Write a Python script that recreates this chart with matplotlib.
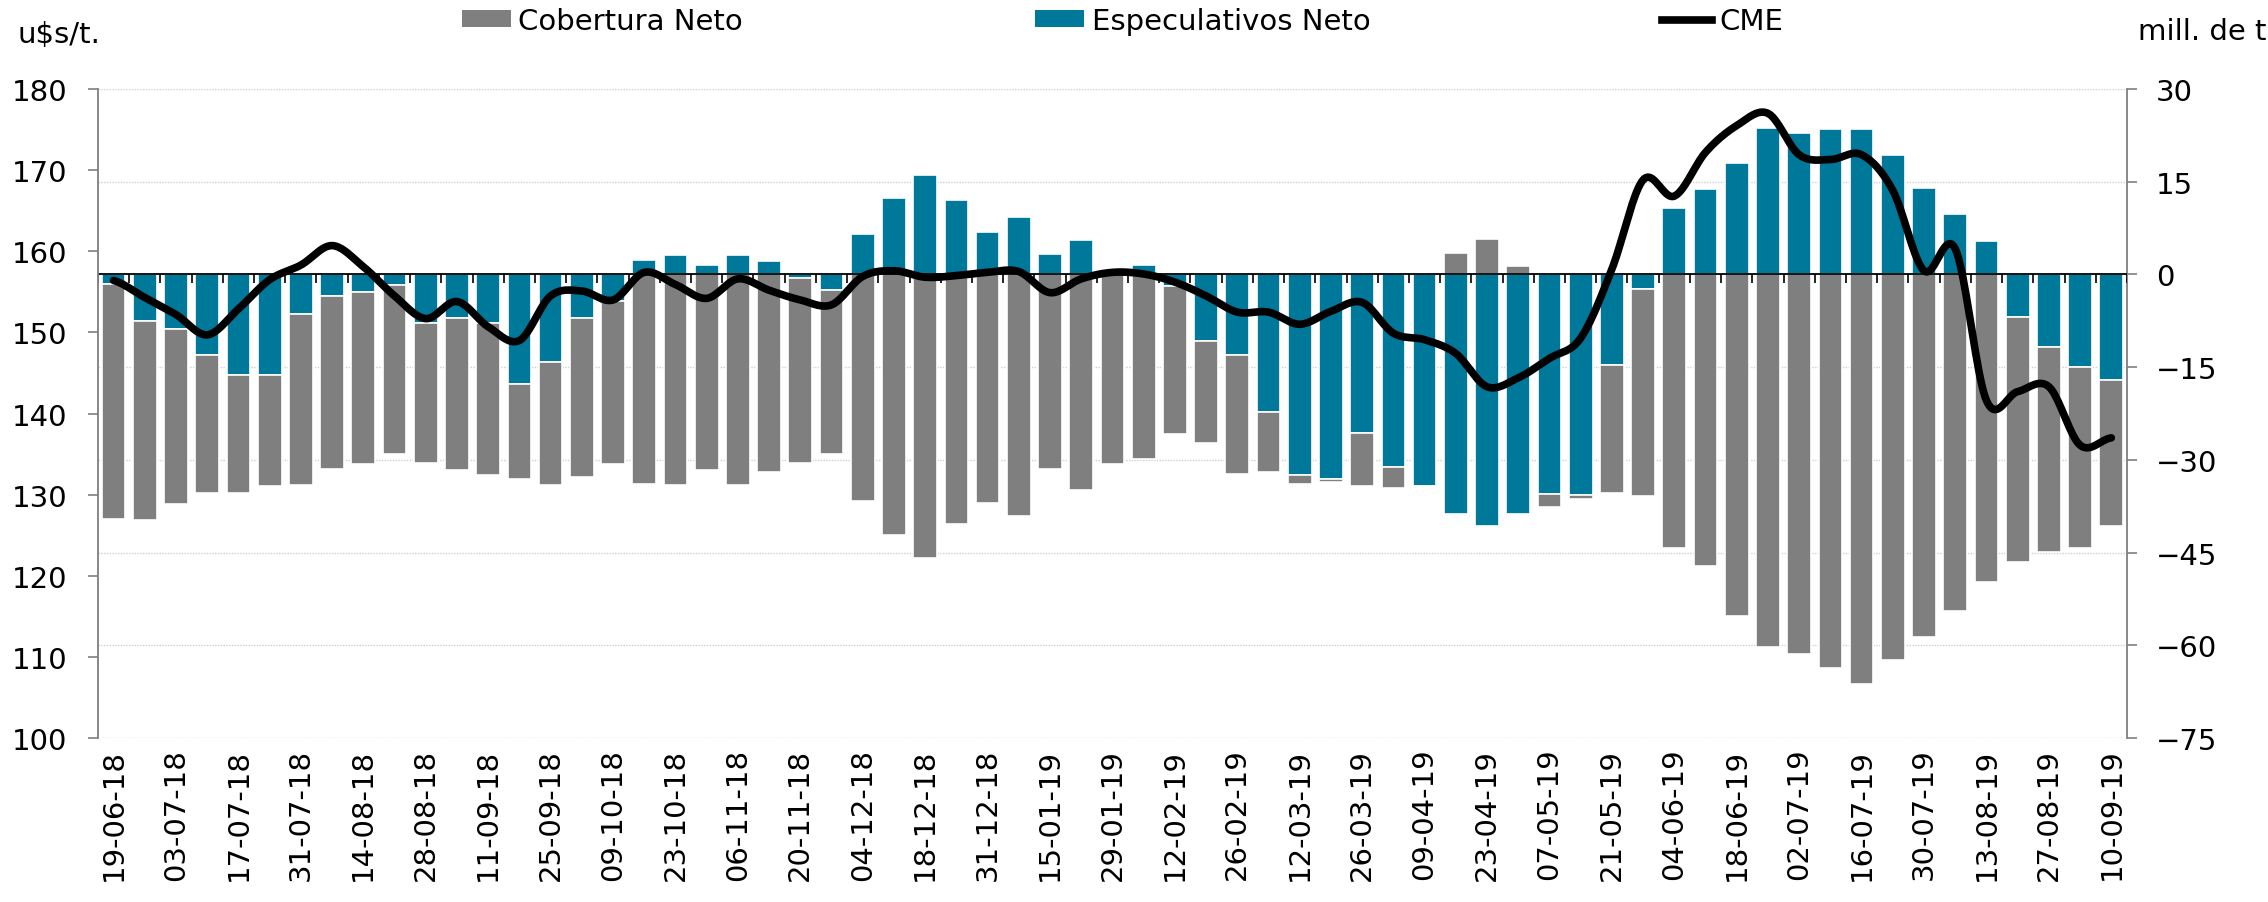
import numpy as np
import matplotlib
matplotlib.use('Agg')
import matplotlib.pyplot as plt
from matplotlib.patches import Patch
from matplotlib.lines import Line2D

# weekly COT dates (tuesdays), only every second one is labelled
fechas = ['19-06-18', '26-06-18', '03-07-18', '10-07-18', '17-07-18', '24-07-18', '31-07-18', '07-08-18',
          '14-08-18', '21-08-18', '28-08-18', '04-09-18', '11-09-18', '18-09-18', '25-09-18', '02-10-18',
          '09-10-18', '16-10-18', '23-10-18', '30-10-18', '06-11-18', '13-11-18', '20-11-18', '27-11-18',
          '04-12-18', '11-12-18', '18-12-18', '24-12-18', '31-12-18', '08-01-19', '15-01-19', '22-01-19',
          '29-01-19', '05-02-19', '12-02-19', '19-02-19', '26-02-19', '05-03-19', '12-03-19', '19-03-19',
          '26-03-19', '02-04-19', '09-04-19', '16-04-19', '23-04-19', '30-04-19', '07-05-19', '14-05-19',
          '21-05-19', '28-05-19', '04-06-19', '11-06-19', '18-06-19', '25-06-19', '02-07-19', '09-07-19',
          '16-07-19', '23-07-19', '30-07-19', '06-08-19', '13-08-19', '20-08-19', '27-08-19', '03-09-19',
          '10-09-19']

# mill. de t
especulativos = [-1.6, -7.5, -8.8, -13.0, -16.2, -16.3, -6.4, -3.5, -2.8, -1.7,
                 -7.8, -7.0, -7.8, -17.7, -14.2, -7.1, -4.3, 2.4, 3.1, 1.6,
                 3.2, 2.2, -0.6, -2.5, 6.6, 12.3, 16.1, 12.1, 6.9, 9.3,
                 3.3, 5.5, 0.2, 1.6, -1.8, -10.8, -13.0, -22.3, -32.5, -33.1,
                 -25.6, -31.2, -34.3, -38.8, -40.7, -38.7, -35.6, -35.7, -14.7, -2.3,
                 10.8, 13.9, 18.1, 23.7, 22.9, 23.6, 23.6, 19.3, 14.0, 9.8,
                 5.4, -6.9, -11.8, -15.0, -17.1]
cobertura = [-37.9, -32.3, -28.3, -22.4, -19.2, -17.9, -27.7, -28.0, -27.9, -27.4,
             -22.7, -24.7, -24.7, -15.4, -19.9, -25.7, -26.4, -33.9, -34.1, -31.7,
             -34.1, -31.9, -29.9, -26.5, -36.6, -42.1, -45.8, -40.4, -36.9, -39.1,
             -31.5, -34.8, -30.7, -29.9, -24.0, -16.4, -19.3, -9.7, -1.4, -0.5,
             -8.7, -3.3, -0.1, 3.4, 5.8, 1.4, -2.1, -0.6, -20.7, -33.5,
             -44.3, -47.1, -55.2, -60.2, -61.4, -63.6, -66.2, -62.3, -58.6, -54.4,
             -49.7, -39.7, -33.1, -29.3, -23.6]
# u$s/t.
cme = [156.4, 154.3, 152.2, 149.7, 152.9, 156.5, 158.3, 160.7, 158.1, 154.5,
       151.7, 153.8, 150.7, 149.0, 154.5, 155.1, 154.0, 157.4, 155.9, 154.2,
       156.6, 155.2, 154.0, 153.4, 156.9, 157.6, 156.8, 157.0, 157.4, 157.5,
       154.9, 156.6, 157.4, 157.2, 156.2, 154.5, 152.5, 152.5, 151.0, 152.6,
       153.7, 149.9, 149.1, 147.4, 143.3, 144.4, 146.8, 149.3, 157.8, 168.8,
       166.8, 172.2, 175.5, 177.0, 171.9, 171.3, 171.9, 167.5, 157.6, 160.3,
       141.6, 142.7, 143.3, 136.1, 137.0]

GRIS = '#7f7f7f'
AZUL = '#00789a'
FS = 21


def catmull_rom(y, n=20):
    # smoothed line like excel's "smooth line"
    y = np.asarray(y, dtype=float)
    yp = np.concatenate([[y[0]], y, [y[-1]]])
    xs, ys = [], []
    t = np.linspace(0, 1, n, endpoint=False)
    for i in range(len(y) - 1):
        p0, p1, p2, p3 = yp[i], yp[i + 1], yp[i + 2], yp[i + 3]
        seg = 0.5 * (2 * p1 + (-p0 + p2) * t + (2 * p0 - 5 * p1 + 4 * p2 - p3) * t ** 2
                     + (-p0 + 3 * p1 - 3 * p2 + p3) * t ** 3)
        xs.append(i + t)
        ys.append(seg)
    xs.append([len(y) - 1])
    ys.append([y[-1]])
    return np.concatenate(xs), np.concatenate(ys)


x = np.arange(len(fechas))
esp = np.array(especulativos)
cob = np.array(cobertura)
# stacked: same sign -> gray goes on top of blue, otherwise starts at zero
base_cob = np.where(np.sign(cob) == np.sign(esp), esp, 0)

fig = plt.figure(figsize=(22.68, 9.03), dpi=100)
ax_bar = fig.add_axes([0.0432, 0.1816, 0.8946, 0.7187])
ax_line = ax_bar.twinx()

ax_bar.bar(x, esp, width=0.76, color=AZUL, edgecolor='white', linewidth=1.2, zorder=3)
ax_bar.bar(x, cob, bottom=base_cob, width=0.76, color=GRIS, edgecolor='white', linewidth=1.2, zorder=3)
ax_bar.axhline(0, color='black', lw=1.3, zorder=4)
ax_bar.vlines(np.arange(len(fechas) + 1) - 0.5, -1.4, 0, color='black', lw=1.2, zorder=4)

ax_bar.set_ylim(-75, 30)
ax_bar.set_yticks(np.arange(-75, 31, 15))
ax_bar.set_xlim(-0.5, len(fechas) - 0.5)
ax_bar.yaxis.grid(True, linestyle=(0, (1, 1)), color='#cfcfcf', lw=1)
ax_bar.set_axisbelow(True)

xs, ys = catmull_rom(cme)
ax_line.plot(xs, ys, color='black', lw=5.5, solid_capstyle='round', zorder=5)
ax_line.set_ylim(100, 180)
ax_line.set_yticks(np.arange(100, 181, 10))

# sides: bars -> right axis, price -> left axis
ax_bar.yaxis.tick_right()
ax_line.yaxis.tick_left()

for a in (ax_bar, ax_line):
    for s in ('top', 'bottom'):
        a.spines[s].set_visible(False)
ax_bar.spines['left'].set_visible(False)
ax_line.spines['right'].set_visible(False)
ax_bar.spines['right'].set_color(GRIS)
ax_line.spines['left'].set_color(GRIS)
ax_bar.spines['right'].set_linewidth(1.3)
ax_line.spines['left'].set_linewidth(1.3)

ax_bar.tick_params(axis='y', right=True, left=False, labelright=True, labelleft=False,
                   length=7, width=1.2, color=GRIS, labelsize=FS, pad=14)
ax_line.tick_params(axis='y', left=True, right=False, labelleft=True, labelright=False,
                    length=7, width=1.2, color=GRIS, labelsize=FS, pad=15)

ax_bar.set_xticks(x[::2])
ax_bar.set_xticklabels(fechas[::2], rotation=90, fontsize=FS)
ax_bar.tick_params(axis='x', length=0, pad=7)

fig.text(17 / 2268, 0.961, r'u\$s/t.', fontsize=FS, ha='left', va='center')
fig.text(0.9995, 0.9646, 'mill. de t', fontsize=FS, ha='right', va='center')

handles = [Patch(facecolor=GRIS), Patch(facecolor=AZUL), Line2D([], [], color='black', lw=5.5)]
fig.legend(handles, ['Cobertura Neto', 'Especulativos Neto', 'CME'], loc='center',
           bbox_to_anchor=(0.4948, 0.9756), ncol=3, frameon=False, fontsize=FS,
           handlelength=1.7, handleheight=0.5, handletextpad=0.25, columnspacing=10.0,
           borderaxespad=0, borderpad=0)

fig.savefig('out.png', dpi=100)
